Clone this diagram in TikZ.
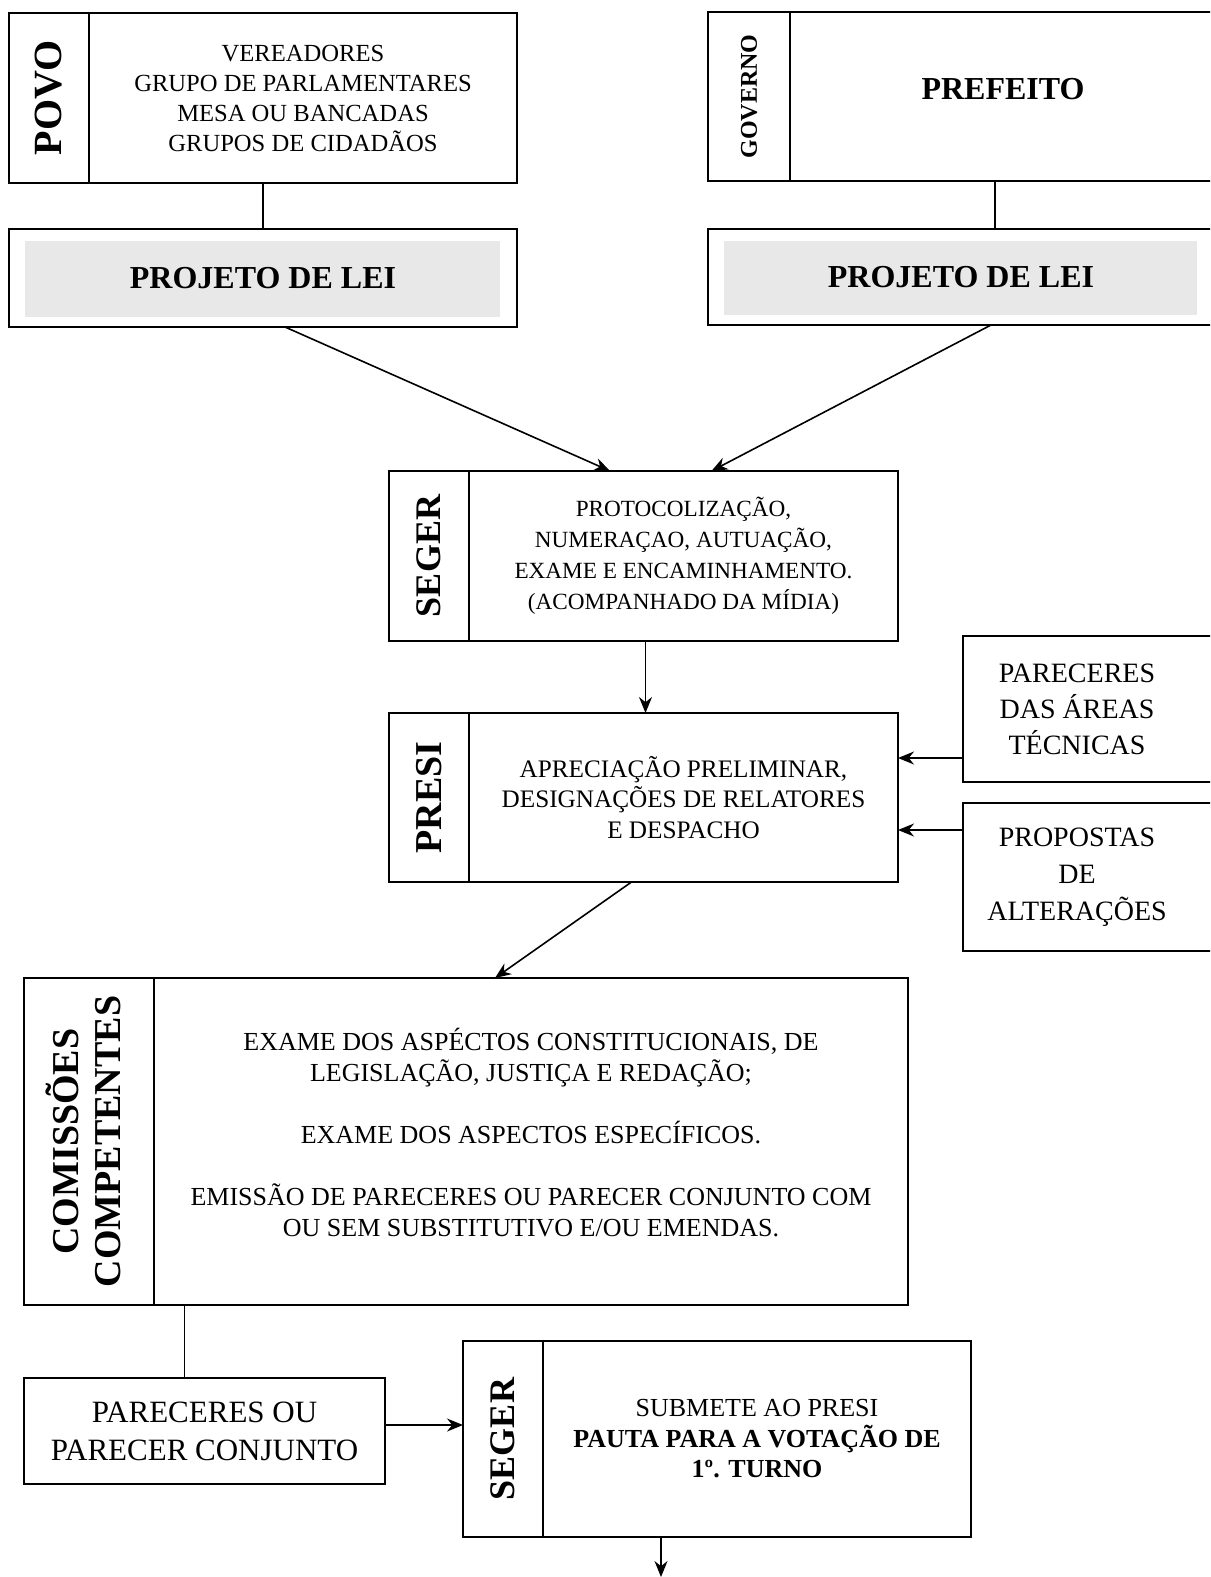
\documentclass[tikz,border=0pt]{standalone}
\usepackage{fontspec}
\setmainfont{Liberation Serif}
\usetikzlibrary{arrows.meta, positioning}

\tikzset{
  caixa/.style={draw, line width=1pt, align=center, inner sep=0pt, outer sep=0pt},
  rotulo/.style={caixa, anchor=north west},
  texto/.style={caixa, font=\fontsize{12.3}{15}\selectfont},
  projeto/.style={caixa, anchor=north west, font=\bfseries\fontsize{16}{18}\selectfont,
    path picture={\fill[black!9] ([shift={(8pt,-6pt)}]path picture bounding box.north west)
      rectangle ([shift={(-8.5pt,5pt)}]path picture bounding box.south east);}}
}

\begin{document}
\begin{tikzpicture}[>={Stealth[length=8pt,width=6.5pt]}, x=0.5pt, y=-0.5pt, line width=0.8pt]

        \path[use as bounding box, clip] (0,0) rectangle (1210,1577);

        % Origem
        \node (povo) [rotulo, font=\bfseries\fontsize{20}{22}\selectfont, minimum width=40pt, minimum height=85pt] at (9,13) {\rotatebox{90}{POVO}};
        \node (povoTxt) [texto, minimum width=214pt, minimum height=85pt, right=0pt of povo] {VEREADORES\\GRUPO DE PARLAMENTARES\\MESA OU BANCADAS\\GRUPOS DE CIDADÃOS};
        \node (lei1) [projeto, minimum width=254pt, minimum height=49pt] at (9,229) {PROJETO DE LEI};

        \node (governo) [rotulo, font=\bfseries\fontsize{12}{14}\selectfont, minimum width=41pt, minimum height=84.5pt] at (708,12) {\rotatebox{90}{GOVERNO}};
        \node (prefeito) [texto, font=\bfseries\fontsize{16}{18}\selectfont, minimum width=213pt, minimum height=84.5pt, right=0pt of governo] {PREFEITO\\[-10pt]};
        \node (lei2) [projeto, minimum width=253pt, minimum height=48pt] at (708,229) {PROJETO DE LEI};

        % Tramitacao
        \node (seger) [rotulo, font=\bfseries\fontsize{18}{20}\selectfont, minimum width=40pt, minimum height=85pt] at (389,471) {\rotatebox{90}{SEGER}};
        \node (segerTxt) [texto, font=\fontsize{11.6}{15.5}\selectfont, minimum width=214.5pt, minimum height=85pt, right=0pt of seger] {PROTOCOLIZAÇÃO,\\NUMERAÇAO, AUTUAÇÃO,\\EXAME E ENCAMINHAMENTO.\\(ACOMPANHADO DA MÍDIA)};

        \node (presi) [rotulo, font=\bfseries\fontsize{19}{21}\selectfont, minimum width=40pt, minimum height=84.5pt] at (389,713) {\rotatebox{90}{PRESI}};
        \node (presiTxt) [texto, font=\fontsize{12.6}{15.25}\selectfont, minimum width=214.5pt, minimum height=84.5pt, right=0pt of presi] {APRECIAÇÃO PRELIMINAR,\\DESIGNAÇÕES DE RELATORES\\E DESPACHO};

        \node (tecnicas) [caixa, draw=none, anchor=north west, font=\fontsize{14}{18}\selectfont, minimum width=114pt, minimum height=73pt] at (963,636) {PARECERES\\DAS ÁREAS\\TÉCNICAS};
        \draw[line width=1pt] (tecnicas.north west) rectangle ([xshift=20pt]tecnicas.south east);
        \node (propostas) [caixa, draw=none, anchor=north west, font=\fontsize{14}{18.5}\selectfont, minimum width=114pt, minimum height=74pt] at (963,803) {PROPOSTAS\\DE\\ALTERAÇÕES};
        \draw[line width=1pt] (propostas.north west) rectangle ([xshift=20pt]propostas.south east);

        \node (comissoes) [rotulo, font=\bfseries\fontsize{19}{21}\selectfont, minimum width=65pt, minimum height=163.5pt] at (24,978) {\rotatebox{90}{\begin{tabular}{@{}c@{}}COMISSÕES\\COMPETENTES\end{tabular}}};
        \node (comTxt) [texto, font=\fontsize{13}{15.5}\selectfont, minimum width=377pt, minimum height=163.5pt, right=0pt of comissoes] {EXAME DOS ASPÉCTOS CONSTITUCIONAIS, DE\\LEGISLAÇÃO, JUSTIÇA E REDAÇÃO;\\[15.5pt]EXAME DOS ASPECTOS ESPECÍFICOS.\\[15.5pt]EMISSÃO DE PARECERES OU PARECER CONJUNTO COM\\OU SEM SUBSTITUTIVO E/OU EMENDAS.\\[-6.5pt]};

        \node (pareceres) [caixa, anchor=north west, font=\fontsize{15.5}{19}\selectfont, minimum width=180.5pt, minimum height=53pt] at (24,1378) {PARECERES OU\\PARECER CONJUNTO};

        \node (segerVot) [rotulo, font=\bfseries\fontsize{18}{20}\selectfont, minimum width=40pt, minimum height=98pt] at (463,1341) {\rotatebox{90}{SEGER}};
        \node (segerVotTxt) [texto, font=\fontsize{13}{15.25}\selectfont, minimum width=214pt, minimum height=98pt, right=0pt of segerVot] {SUBMETE AO PRESI\\\textbf{PAUTA PARA A VOTAÇÃO DE}\\\textbf{1º. TURNO}};
        \coordinate (fim) at (661,1577);

        % Ligacoes
        \draw (lei1.north) -- (lei1.north |- povoTxt.south);
        \draw ([xshift=-4pt]prefeito.south) -- ([xshift=-4pt]prefeito.south |- lei2.north);
        \draw[->] ([xshift=11pt]lei1.south) -- ([xshift=-36.75pt]segerTxt.north);
        \draw[->] ([xshift=15pt]lei2.south) -- ([xshift=14pt]segerTxt.north);
        \draw[->] ([xshift=-19pt]segerTxt.south) -- ([xshift=-19pt]presiTxt.north);
        \draw[->] ([yshift=-24.5pt]tecnicas.west) -- ([yshift=-24.5pt]tecnicas.west -| presiTxt.east);
        \draw[->] ([yshift=23.5pt]propostas.west) -- ([yshift=23.5pt]propostas.west -| presiTxt.east);
        \draw[->] ([xshift=-26pt]presiTxt.south) -- ([xshift=-18pt]comTxt.north);
        \draw ([xshift=-10pt]pareceres.north) -- ([xshift=-10pt]pareceres.north |- comTxt.south);
        \draw[->] ([yshift=3pt]pareceres.east) -- ([yshift=3pt]pareceres.east -| segerVot.west);
        \draw[->] ([xshift=-48pt]segerVotTxt.south) -- (fim);

\end{tikzpicture}
\end{document}
